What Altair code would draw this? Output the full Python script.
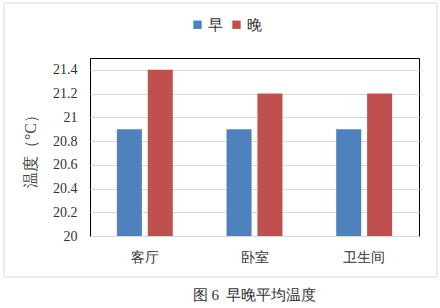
import altair as alt
import pandas as pd

categories = ["客厅", "卧室", "卫生间"]
series = ["早", "晚"]
morning = [20.9, 20.9, 20.9]
evening = [21.4, 21.2, 21.2]
y_ticks = [20, 20.2, 20.4, 20.6, 20.8, 21, 21.2, 21.4]
colors = ["#4F81BD", "#C0504D"]

rows = []
for i, c in enumerate(categories):
    rows.append({"room": c, "series": "早", "temp": morning[i]})
    rows.append({"room": c, "series": "晚", "temp": evening[i]})
df = pd.DataFrame(rows)

FONT = "Liberation Serif"

frame = alt.Chart(pd.DataFrame({"a": [0]})).mark_rect(
    fill=None, stroke="#d9d9d9", strokeWidth=1, clip=False
).encode(
    x=alt.value(-86), x2=alt.value(347), y=alt.value(-55), y2=alt.value(219)
)

bars = alt.Chart(df).mark_bar().encode(
    x=alt.X("room:N", sort=categories,
            scale=alt.Scale(paddingInner=0.49, paddingOuter=0.245),
            axis=alt.Axis(title=None, labelAngle=0, ticks=False, domain=False,
                          labelPadding=14, labelFontSize=14, labelColor="#333333",
                          labelFont=FONT)),
    xOffset=alt.XOffset("series:N", sort=series,
                        scale=alt.Scale(paddingInner=0.19, paddingOuter=0)),
    y=alt.Y("temp:Q", scale=alt.Scale(domain=[20, 21.5], nice=False, zero=False),
            axis=alt.Axis(title="温度（°C）", values=y_ticks, format=".1~f",
                          ticks=False, domain=False, labelPadding=13,
                          labelFontSize=14, labelColor="#333333", labelFont=FONT,
                          titleFontSize=16, titleFont=FONT, titleFontWeight="normal",
                          titleColor="#444444", titlePadding=14,
                          grid=True, gridColor="#d9d9d9")),
    y2=alt.datum(20),
    color=alt.Color("series:N", sort=series,
                    scale=alt.Scale(domain=series, range=colors),
                    legend=alt.Legend(title=None, orient="none", direction="horizontal",
                                      legendX=100, legendY=-41, symbolType="square",
                                      symbolSize=70, labelFontSize=15, labelFont=FONT,
                                      labelColor="#333333", columnPadding=6,
                                      labelOffset=3, symbolStrokeWidth=0)),
)

chart = alt.layer(frame, bars).properties(
    width=329, height=178,
    padding={"left": 90, "top": 58, "right": 21, "bottom": 72},
    autosize=alt.AutoSizeParams(type="none"),
    title=alt.TitleParams("图\u00a06\u00a0\u00a0早晚平均温度", orient="bottom", offset=10,
                          fontSize=15, font=FONT, fontWeight="normal", color="#333333"),
).configure(font=FONT).configure_view(stroke="black", strokeWidth=1)

chart.save("out.html", embed_options={"renderer": "svg", "actions": False})
